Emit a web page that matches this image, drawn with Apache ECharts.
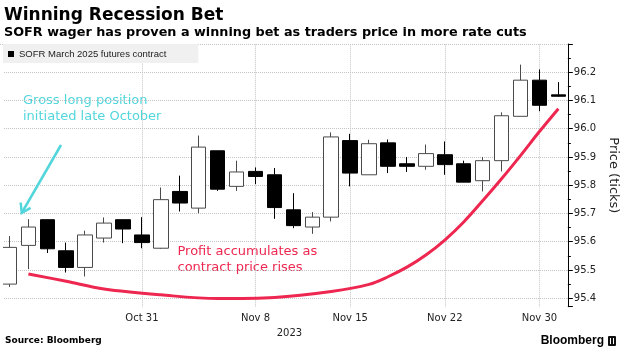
<!DOCTYPE html>
<html><head><meta charset="utf-8">
<script src="https://cdn.jsdelivr.net/npm/echarts@6/dist/echarts.min.js"></script>
<style>html,body{margin:0;padding:0;background:#fff}#c{width:628px;height:358px}</style>
</head><body><div id="c"></div>
<script>
// Trading days shown (first one is clipped at the left edge)
const categories = ['Oct 20','Oct 23','Oct 24','Oct 25','Oct 26','Oct 27','Oct 30','Oct 31',
  'Nov 1','Nov 2','Nov 3','Nov 6','Nov 7','Nov 8','Nov 9','Nov 10','Nov 13','Nov 14','Nov 15',
  'Nov 16','Nov 17','Nov 20','Nov 21','Nov 22','Nov 24','Nov 27','Nov 28','Nov 29','Nov 30','Dec 1'];
const opens  = [95.450,95.587,95.678,95.568,95.509,95.613,95.678,95.624,95.577,95.778,95.719,95.922,95.796,95.849,95.837,95.713,95.652,95.687,95.958,95.837,95.950,95.876,95.867,95.908,95.876,95.816,95.887,96.044,96.172,96.120];
const closes = [95.580,95.652,95.575,95.509,95.624,95.666,95.645,95.597,95.749,95.737,95.935,95.786,95.847,95.831,95.721,95.657,95.687,95.971,95.843,95.947,95.867,95.867,95.912,95.873,95.811,95.887,96.046,96.172,96.083,96.115];
const lows   = [95.440,95.503,95.560,95.491,95.477,95.597,95.595,95.577,95.575,95.707,95.701,95.780,95.780,95.804,95.681,95.648,95.628,95.672,95.796,95.837,95.843,95.847,95.855,95.837,95.811,95.778,95.849,96.044,96.062,96.113];
const highs  = [95.620,95.680,95.678,95.597,95.639,95.686,95.678,95.687,95.792,95.834,95.976,95.922,95.887,95.863,95.861,95.772,95.705,95.987,95.982,95.961,95.962,95.900,95.944,95.955,95.887,95.900,96.058,96.227,96.210,96.165];
const labeledDates = ['Oct 31','Nov 8','Nov 15','Nov 22','Nov 30'];
// Annotation curve "Profit accumulates..."
const profitDates  = ['Oct 23','Oct 25','Oct 27','Nov 1','Nov 6','Nov 9','Nov 14','Nov 16','Nov 17','Nov 20','Nov 21','Nov 22','Nov 24','Nov 27','Nov 28','Nov 29','Nov 30','Dec 1'];
const profitValues = [95.486,95.460,95.433,95.412,95.399,95.403,95.424,95.449,95.476,95.510,95.553,95.606,95.670,95.745,95.823,95.905,95.990,96.071];

const FONT = 'DejaVu Sans';
const chart = echarts.init(document.getElementById('c'), null, {renderer:'canvas'});
const candleData = categories.map((d,i)=>[opens[i], closes[i], lows[i], highs[i]]);
const labelIdx = labeledDates.map(d=>categories.indexOf(d));
const gridStyle = {type:'dotted', color:'#c4c4c4', width:1};

chart.setOption({
  animation:false,
  backgroundColor:'#fff',
  grid:{left:-6.5, right:53.5, top:44, bottom:51.3, containLabel:false},
  legend:{
    left:3, top:44, padding:[5,32,4,5], backgroundColor:'#f0f0f0',
    itemWidth:6, itemHeight:6, icon:'rect',
    textStyle:{fontFamily:'Liberation Sans', fontSize:9.5, color:'#222'},
    data:[{name:'SOFR March 2025 futures contract', itemStyle:{color:'#000', borderWidth:0}}],
    selectedMode:false
  },
  xAxis:{
    type:'category', data:categories, boundaryGap:true,
    name:'2023', nameLocation:'middle', nameGap:22,
    nameTextStyle:{fontFamily:FONT, fontSize:10, color:'#222', padding:[0,0,0,11]},
    axisLine:{show:false}, axisTick:{show:false},
    axisLabel:{interval:(i)=>labelIdx.includes(i), margin:7, fontFamily:FONT, fontSize:10, color:'#222'},
    splitLine:{show:false}
  },
  yAxis:{
    type:'value', position:'right', min:95.37, max:96.3, splitNumber:9, scale:true,
    name:'Price (ticks)', nameLocation:'middle', nameRotate:-90, nameGap:36,
    nameTextStyle:{fontFamily:FONT, fontSize:13, color:'#222'},
    axisLine:{show:true, lineStyle:{color:'#000', width:1}},
    axisTick:{show:true, length:5, lineStyle:{color:'#000'}},
    minorTick:{show:true, splitNumber:2, length:3, lineStyle:{color:'#000'}},
    axisLabel:{showMinLabel:false, showMaxLabel:false, margin:6, fontFamily:FONT, fontSize:10, color:'#222', formatter:v=>v.toFixed(1)},
    splitLine:{show:true, showMinLine:false, lineStyle:gridStyle}
  },
  series:[
    {
      name:'dateGrid', type:'line', data:[], z:1, silent:true,
      markLine:{silent:true, z:1, symbol:'none', label:{show:false}, lineStyle:gridStyle, animation:false,
        data:labeledDates.map(d=>({xAxis:d}))}
    },
    {
      name:'SOFR March 2025 futures contract', type:'candlestick', data:candleData, barWidth:15, z:3,
      itemStyle:{color:'#fff', color0:'#000', borderColor:'#4a4a4a', borderColor0:'#000', borderWidth:1}
    },
    {
      name:'profit', type:'line', data:profitDates.map((d,i)=>[d, profitValues[i]]),
      smooth:0.35, symbol:'none', lineStyle:{color:'#ee2750', width:3}, z:5, silent:true
    }
  ],
  graphic:[
    {type:'rect', shape:{x:0,y:66,width:3,height:241}, style:{fill:'#fff'}, z:50},
    {type:'text', x:4, y:16, style:{text:'Winning Recession Bet', font:'bold 17px DejaVu Sans', fill:'#000', verticalAlign:'middle'}},
    {type:'text', x:4, y:33, style:{text:'SOFR wager has proven a winning bet as traders price in more rate cuts', font:'bold 12.8px DejaVu Sans', fill:'#000', verticalAlign:'middle'}},
    {type:'text', x:23, y:93, style:{text:'Gross long position\ninitiated late October', font:'13px DejaVu Sans', fill:'#52d6dc', lineHeight:16, verticalAlign:'top'}},
    {type:'text', x:177.5, y:244, style:{text:'Profit accumulates as\ncontract price rises', font:'13px DejaVu Sans', fill:'#ee2750', lineHeight:16, verticalAlign:'top'}},
    {type:'polyline', shape:{points:[[61,145],[21.7,213]]}, style:{stroke:'#52d6dc', lineWidth:2.5, fill:null}, z:10},
    {type:'polyline', shape:{points:[[20.7,202.5],[21.7,213],[30.6,207.8]]}, style:{stroke:'#52d6dc', lineWidth:2.5, fill:null}, z:10},
    {type:'text', x:5, y:341, style:{text:'Source: Bloomberg', font:'bold 9px DejaVu Sans', fill:'#000', verticalAlign:'middle'}},
    {type:'text', x:604, y:341, style:{text:'Bloomberg', font:'bold 12px Liberation Sans', fill:'#000', verticalAlign:'middle', align:'right'}},
    {type:'rect', shape:{x:608,y:336,width:8,height:10,r:1}, style:{fill:'#111'}},
    {type:'polyline', shape:{points:[[610.5,338],[610.5,344]]}, style:{stroke:'#fff', lineWidth:1}},
    {type:'polyline', shape:{points:[[613.5,338],[613.5,344]]}, style:{stroke:'#fff', lineWidth:1}}
  ]
});
</script></body></html>
